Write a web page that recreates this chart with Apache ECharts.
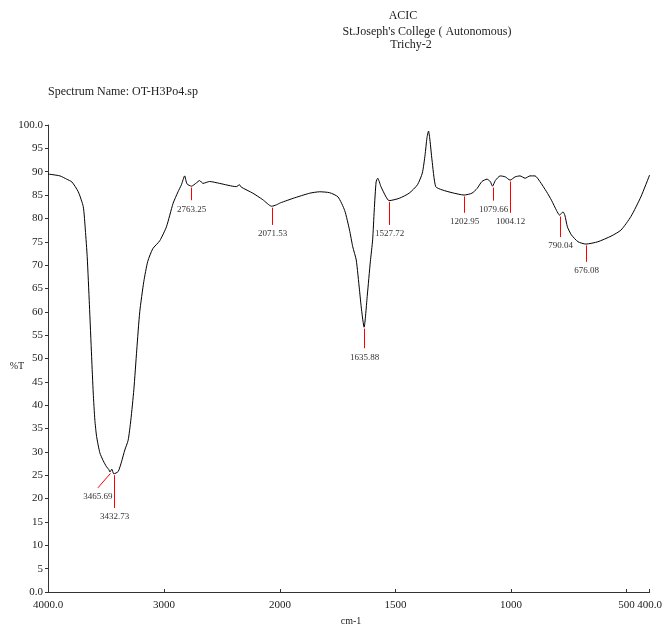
<!DOCTYPE html>
<html>
<head>
<meta charset="utf-8">
<script src="https://cdn.jsdelivr.net/npm/echarts@6.0.0/dist/echarts.min.js"></script>
<style>
html,body{margin:0;padding:0;background:#fff;}
#chart{width:665px;height:629px;}
</style>
</head>
<body>
<div id="chart"></div>
<script>
// high wavenumber part (4000 - 2000 cm-1)
let wn1 = [4000, 3897, 3839, 3794, 3739, 3696, 3678, 3662, 3643, 3624, 3610, 3596, 3581, 3553, 3524, 3495, 3475, 3466, 3450, 3433, 3395, 3366, 3338, 3309, 3286, 3260, 3235, 3209, 3174, 3140, 3097, 3037, 2979, 2922, 2879, 2850, 2822, 2802, 2763, 2721, 2693, 2664, 2607, 2521, 2377, 2349, 2334, 2234, 2148, 2072, 2031, 2000];
let tr1 = [89.5, 89.1, 88.4, 87.8, 85.7, 82.5, 77.5, 71.8, 61.5, 50.4, 42.6, 36.8, 33.3, 29.8, 28.1, 26.8, 26.2, 25.7, 26.3, 25.3, 25.8, 27.9, 30.4, 32.5, 36.8, 43.3, 51.8, 60.0, 66.5, 70.8, 73.5, 75.2, 78.2, 83.2, 85.7, 87.2, 89.1, 87.4, 86.9, 87.6, 88.1, 87.5, 87.9, 87.5, 86.8, 87.2, 86.7, 85.4, 84.0, 82.6, 82.9, 83.3];
// low wavenumber part (2000 - 400 cm-1)
let wn2 = [2000, 1943, 1871, 1828, 1785, 1749, 1720, 1699, 1685, 1670, 1656, 1647, 1636, 1622, 1609, 1599, 1592, 1584, 1577, 1563, 1541, 1528, 1484, 1441, 1405, 1384, 1372, 1364, 1357, 1351, 1342, 1326, 1298, 1255, 1203, 1169, 1147, 1126, 1104, 1090, 1080, 1068, 1047, 1025, 1004, 982, 961, 939, 918, 896, 875, 846, 825, 803, 790, 775, 767, 756, 739, 710, 676, 624, 567, 524, 481, 438, 400];
let tr2 = [83.3, 84.3, 85.4, 85.7, 85.5, 84.6, 81.7, 77.5, 73.9, 71.1, 64.7, 60.4, 56.7, 63.6, 70.7, 75.4, 81.8, 87.8, 88.6, 86.8, 84.6, 83.8, 84.3, 85.4, 87.2, 89.7, 93.6, 97.2, 98.7, 96.8, 92.5, 86.8, 86.1, 85.5, 85.0, 85.4, 86.4, 87.9, 88.4, 87.9, 86.9, 88.1, 89.1, 88.9, 88.2, 88.9, 89.1, 88.6, 89.1, 89.1, 87.9, 85.7, 83.9, 81.7, 80.7, 81.4, 80.7, 78.2, 76.5, 75.0, 74.5, 75.0, 76.2, 77.5, 80.4, 84.6, 89.3];
// picked peaks
let peakWn = [3465.69, 3432.73, 2763.25, 2071.53, 1635.88, 1527.72, 1202.95, 1079.66, 1004.12, 790.04, 676.08];
let peakT = [25.7, 25.3, 86.9, 82.6, 56.7, 83.8, 85.0, 86.9, 88.2, 80.7, 74.5];
let peakLabel = ["3465.69", "3432.73", "2763.25", "2071.53", "1635.88", "1527.72", "1202.95", "1079.66", "1004.12", "790.04", "676.08"];
// where each red marker line ends (the label sits just under it)
let markEndWn = [3570, 3432.73, 2763.25, 2071.53, 1635.88, 1527.72, 1202.95, 1079.66, 1004.12, 790.04, 676.08];
let markEndT = [22.3, 18.0, 83.9, 78.6, 52.2, 78.6, 81.2, 83.8, 81.2, 76.0, 70.7];
let yTicks = [0, 5, 10, 15, 20, 25, 30, 35, 40, 45, 50, 55, 60, 65, 70, 75, 80, 85, 90, 95, 100];
let xTicksHigh = [4000, 3000, 2000];
let xTicksLow = [1500, 1000, 500, 400];

let serif = "Liberation Serif";
let ink = "#222";
let red = "#ff0000";

let spec = {
    pairs:(wn, tr)=>wn.map((w, i)=>[w, tr[i]]),
    xLabel:(v)=>{
        if (v == 4000 || v == 400) return v.toFixed(1);
        return String(v);
    },
    // red peak pickers, one row per peak: [wn, T, endWn, endT, index]
    peakRows:(lo, hi)=>{
        let rows = [];
        peakWn.forEach((w, i)=>{
            if (w < lo || w > hi) return;
            rows.push([w, peakT[i] - 0.3, markEndWn[i], markEndT[i], i]);
        })//peakWn.forEach-----end
        return rows;
    },//peakRows-----end
    renderPeak:(params, api)=>{
        let a = api.coord([api.value(0), api.value(1)]);
        let b = api.coord([api.value(2), api.value(3)]);
        let x1 = Math.round(a[0]) + 0.5;
        let x2 = a[0] == b[0] ? x1 : b[0];
        return {
            type:'group',
            children:[
                {type:'line', shape:{x1:x1, y1:a[1], x2:x2, y2:b[1]},
                    style:{stroke:red, lineWidth:1}},
                {type:'text', x:x2, y:b[1] + 9,
                    style:{text:peakLabel[api.value(4)], fill:'#333', font:'9px "Liberation Serif"',
                        textAlign:'center', textVerticalAlign:'middle'}}
            ]
        };
    },//renderPeak-----end
    series:(idx, data)=>({
        type:'line',
        xAxisIndex:idx,
        yAxisIndex:idx,
        data:data,
        showSymbol:false,
        smooth:0.2,
        lineStyle:{color:'#000', width:1}
    }),
    peaks:(idx, lo, hi)=>({
        type:'custom',
        xAxisIndex:idx,
        yAxisIndex:idx,
        silent:true,
        renderItem:spec.renderPeak,
        data:spec.peakRows(lo, hi)
    }),
    init:()=>{
        let myChart = echarts.init(document.getElementById('chart'));
        let axisLine = {show:true, lineStyle:{color:'#333', width:1}};
        let labelStyle = {fontFamily:serif, fontSize:11, color:ink};
        let option = {
            animation:false,
            backgroundColor:'#fff',
            grid:[
                {left:48, top:125, width:232, height:467},
                {left:280, top:125, width:372, height:467}
            ],
            xAxis:[
                {
                    gridIndex:0, type:'value', min:2000, max:4000, inverse:true,
                    axisLine:axisLine,
                    axisTick:{inside:true, length:3, customValues:xTicksHigh},
                    axisLabel:Object.assign({margin:8, customValues:xTicksHigh, formatter:spec.xLabel}, labelStyle),
                    splitLine:{show:false}
                },
                {
                    gridIndex:1, type:'value', min:400, max:2000, inverse:true,
                    axisLine:axisLine,
                    axisTick:{inside:true, length:3, customValues:xTicksLow},
                    axisLabel:Object.assign({margin:8, customValues:xTicksLow, formatter:spec.xLabel}, labelStyle),
                    splitLine:{show:false}
                }
            ],
            yAxis:[
                {
                    gridIndex:0, type:'value', min:0, max:100,
                    axisLine:axisLine,
                    axisTick:{show:true, length:3, customValues:yTicks},
                    axisLabel:Object.assign({margin:5, customValues:yTicks,
                        formatter:(v)=>(v == 0 || v == 100) ? v.toFixed(1) : String(v)}, labelStyle),
                    splitLine:{show:false}
                },
                {gridIndex:1, type:'value', min:0, max:100, show:false, splitLine:{show:false}}
            ],
            graphic:[
                {type:'text', x:403, y:16, style:{text:'ACIC', font:'12px "Liberation Serif"', fill:ink, textAlign:'center', textVerticalAlign:'middle'}},
                {type:'text', x:427, y:32, style:{text:"St.Joseph's College ( Autonomous)", font:'12px "Liberation Serif"', fill:ink, textAlign:'center', textVerticalAlign:'middle'}},
                {type:'text', x:411, y:45, style:{text:'Trichy-2', font:'12px "Liberation Serif"', fill:ink, textAlign:'center', textVerticalAlign:'middle'}},
                {type:'text', x:48, y:92, style:{text:'Spectrum Name: OT-H3Po4.sp', font:'12px "Liberation Serif"', fill:ink, textAlign:'left', textVerticalAlign:'middle'}},
                {type:'text', x:17, y:366, style:{text:'%T', font:'10px "Liberation Serif"', fill:ink, textAlign:'center', textVerticalAlign:'middle'}},
                {type:'text', x:351, y:621, style:{text:'cm-1', font:'10px "Liberation Serif"', fill:ink, textAlign:'center', textVerticalAlign:'middle'}}
            ],
            series:[
                spec.series(0, spec.pairs(wn1, tr1)),
                spec.series(1, spec.pairs(wn2, tr2)),
                spec.peaks(0, 2000, 4000),
                spec.peaks(1, 400, 2000)
            ]
        };
        myChart.setOption(option);
    }//init-----end
}

spec.init();
</script>
</body>
</html>
